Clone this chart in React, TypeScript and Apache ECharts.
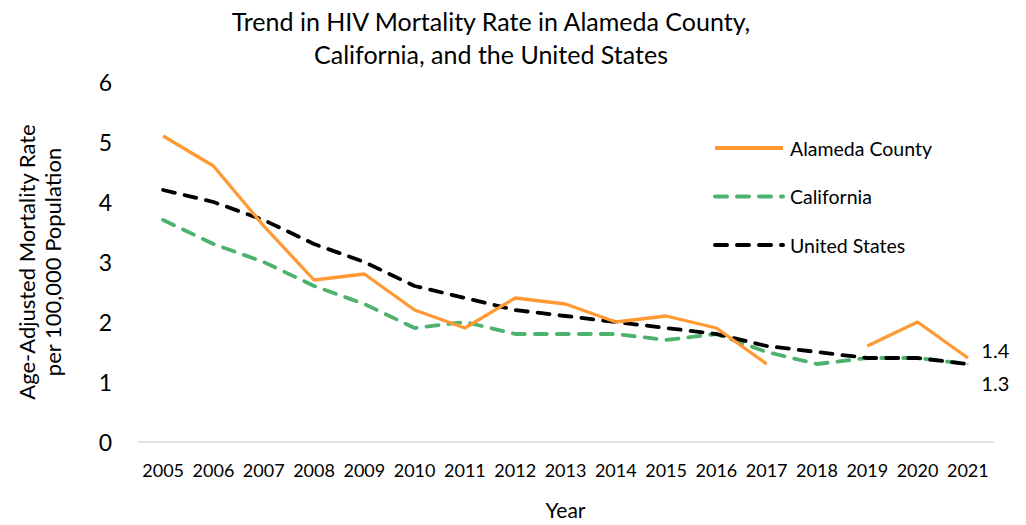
import React, { useEffect, useRef } from "react";
import * as echarts from "echarts";

const years = ["2005","2006","2007","2008","2009","2010","2011","2012","2013","2014","2015","2016","2017","2018","2019","2020","2021"];
const alameda = [5.1, 4.6, 3.6, 2.7, 2.8, 2.2, 1.9, 2.4, 2.3, 2.0, 2.1, 1.9, 1.3, null, 1.6, 2.0, 1.4];
const california = [3.7, 3.3, 3.0, 2.6, 2.3, 1.9, 2.0, 1.8, 1.8, 1.8, 1.7, 1.8, 1.5, 1.3, 1.4, 1.4, 1.3];
const unitedStates = [4.2, 4.0, 3.7, 3.3, 3.0, 2.6, 2.4, 2.2, 2.1, 2.0, 1.9, 1.8, 1.6, 1.5, 1.4, 1.4, 1.3];

const FONT = "Lato, 'Open Sans', sans-serif";

export default function App() {
  const ref = useRef<HTMLDivElement>(null);
  useEffect(() => {
    if (!ref.current) return;
    const chart = echarts.init(ref.current, undefined, { renderer: "svg" });
    const last = years.length - 1;
    const endLabel = (dy: number) => ({
      show: true,
      position: "right",
      offset: [8, dy],
      formatter: "{c}",
      fontFamily: FONT,
      fontSize: 20,
      color: "#000",
    });
    chart.setOption({
      animation: false,
      backgroundColor: "#fff",
      textStyle: { fontFamily: FONT },
      title: {
        text: "Trend in HIV Mortality Rate in Alameda County,\nCalifornia, and the United States",
        left: 486,
        textAlign: "center",
        top: -1,
        textStyle: { fontFamily: FONT, fontSize: 25, fontWeight: "normal", color: "#000", lineHeight: 33 },
      },
      legend: {
        orient: "vertical",
        left: 708,
        top: 133,
        itemWidth: 68,
        itemHeight: 14,
        itemGap: 28.5,
        itemStyle: { opacity: 0 },
        lineStyle: { width: 4 },
        textStyle: { fontFamily: FONT, fontSize: 19.5, color: "#000", padding: [0, 0, 0, 2] },
        data: ["Alameda County", "California", "United States"],
      },
      grid: { left: 138, right: 33, top: 82, bottom: 83, containLabel: false, outerBoundsMode: "none" },
      xAxis: {
        type: "category",
        data: years,
        boundaryGap: true,
        name: "Year",
        nameLocation: "middle",
        nameGap: 57,
        nameTextStyle: { fontFamily: FONT, fontSize: 21, color: "#000" },
        axisLine: { lineStyle: { color: "#d9d9d9", width: 1.5 } },
        axisTick: { show: false },
        axisLabel: { fontFamily: FONT, fontSize: 18, color: "#000", margin: 19, interval: 0 },
      },
      yAxis: {
        type: "value",
        min: 0,
        max: 6,
        interval: 1,
        name: "Age-Adjusted Mortality Rate\nper 100,000 Population",
        nameLocation: "middle",
        nameGap: 73,
        nameTextStyle: { fontFamily: FONT, fontSize: 22, color: "#000", lineHeight: 26 },
        axisLine: { show: false },
        axisTick: { show: false },
        splitLine: { show: false },
        axisLabel: { fontFamily: FONT, fontSize: 23, color: "#000", margin: 26 },
      },
      series: [
        {
          name: "Alameda County",
          type: "line",
          data: alameda.map((v, i) =>
            i === last ? { value: v, symbol: "circle", symbolSize: 1, label: endLabel(-8) } : v
          ),
          connectNulls: false,
          symbol: "none",
          lineStyle: { color: "#FF9933", width: 3.3 },
          itemStyle: { color: "#FF9933" },
          z: 3,
        },
        {
          name: "California",
          type: "line",
          data: california,
          symbol: "none",
          lineStyle: { color: "#4DB26E", width: 3.8, type: [12, 10], cap: "round" },
          itemStyle: { color: "#4DB26E" },
          z: 2,
        },
        {
          name: "United States",
          type: "line",
          data: unitedStates.map((v, i) =>
            i === last ? { value: v, symbol: "circle", symbolSize: 1, label: endLabel(19) } : v
          ),
          symbol: "none",
          lineStyle: { color: "#000000", width: 3.8, type: [12, 10], cap: "round" },
          itemStyle: { color: "#000000" },
          z: 2,
        },
      ],
    });
    return () => chart.dispose();
  }, []);
  return (
    <div
      ref={ref}
      style={{ position: "absolute", left: 0, top: 0, width: 1026, height: 525 }}
    />
  );
}
